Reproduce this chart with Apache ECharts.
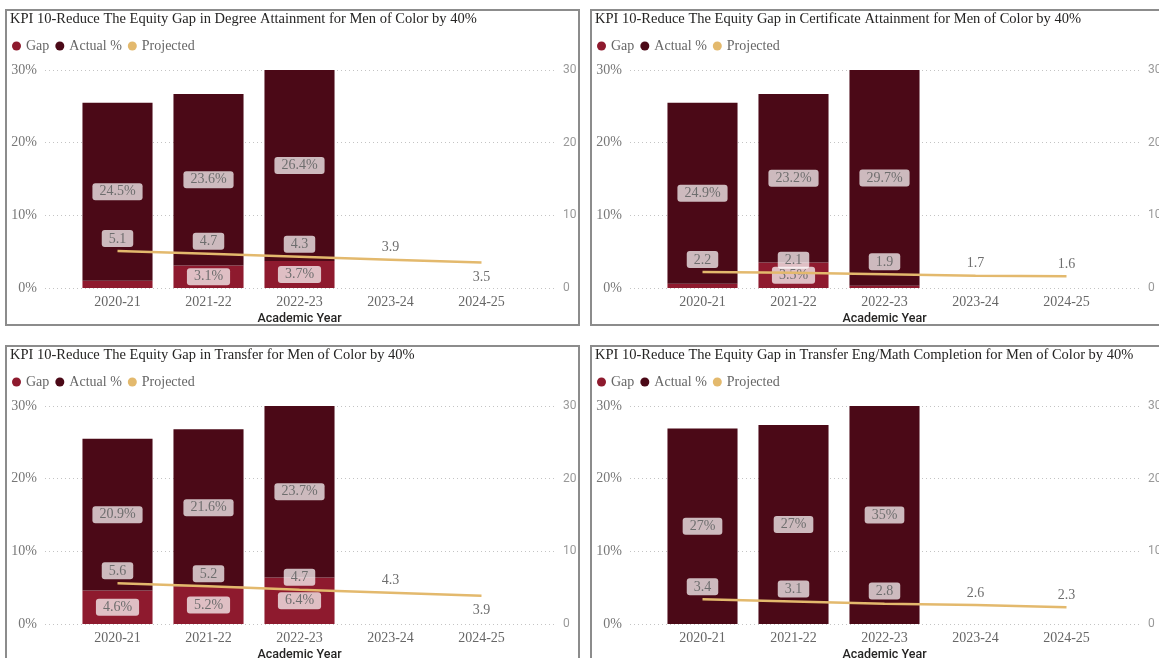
<!DOCTYPE html>
<html>
<head>
<meta charset="utf-8">
<script src="https://cdn.jsdelivr.net/npm/echarts/dist/echarts.min.js"></script>
<style>
html,body{margin:0;padding:0;background:#fff;width:1159px;height:658px;overflow:hidden;position:relative}
.chart{position:absolute;width:575px;height:317px}
.frame{position:absolute;width:575px;height:317px;box-sizing:border-box;border:2px solid #8c8c8c;pointer-events:none}
</style>
</head>
<body>
<div class="chart" id="c0" style="left:5px;top:9px"></div>
<div class="chart" id="c1" style="left:590px;top:9px"></div>
<div class="chart" id="c2" style="left:5px;top:345px"></div>
<div class="chart" id="c3" style="left:590px;top:345px"></div>
<div class="frame" style="left:5px;top:9px"></div>
<div class="frame" style="left:590px;top:9px"></div>
<div class="frame" style="left:5px;top:345px"></div>
<div class="frame" style="left:590px;top:345px"></div>
<script>
// ---- data ----
const years = ['2020-21', '2021-22', '2022-23', '2023-24', '2024-25'];
const legendNames = ['Gap', 'Actual %', 'Projected'];
const xAxisTitle = 'Academic Year';

const degreeTitle = 'KPI 10-Reduce The Equity Gap in Degree Attainment for Men of Color by 40%';
const degreeGap = [1.0, 3.1, 3.7];
const degreeActual = [24.5, 23.6, 26.4];
const degreeProjected = [5.1, 4.7, 4.3, 3.9, 3.5];

const certTitle = 'KPI 10-Reduce The Equity Gap in Certificate Attainment for Men of Color by 40%';
const certGap = [0.6, 3.5, 0.3];
const certActual = [24.9, 23.2, 29.7];
const certProjected = [2.2, 2.1, 1.9, 1.7, 1.6];

const transferTitle = 'KPI 10-Reduce The Equity Gap in Transfer for Men of Color by 40%';
const transferGap = [4.6, 5.2, 6.4];
const transferActual = [20.9, 21.6, 23.7];
const transferProjected = [5.6, 5.2, 4.7, 4.3, 3.9];

const engMathTitle = 'KPI 10-Reduce The Equity Gap in Transfer Eng/Math Completion for Men of Color by 40%';
const engMathGap = [0, 0, 0];
const engMathActual = [26.9, 27.4, 35];
const engMathProjected = [3.4, 3.1, 2.8, 2.6, 2.3];

// ---- styling / layout ----
const GAP_COLOR = '#8E1A2E';
const ACTUAL_COLOR = '#4B0917';
const LINE_COLOR = '#E3B96D';
const SERIF = '"Liberation Serif", "Times New Roman", serif';

const panels = [
  {el: 'c0', title: degreeTitle, gap: degreeGap, actual: degreeActual, projected: degreeProjected, dec: 1, below: [4]},
  {el: 'c1', title: certTitle, gap: certGap, actual: certActual, projected: certProjected, dec: 1, below: []},
  {el: 'c2', title: transferTitle, gap: transferGap, actual: transferActual, projected: transferProjected, dec: 1, below: [4]},
  {el: 'c3', title: engMathTitle, gap: engMathGap, actual: engMathActual, projected: engMathProjected, dec: 0, below: []}
];

function labelBox() {
  return {
    backgroundColor: 'rgba(255,255,255,0.72)',
    borderRadius: 3,
    padding: [2, 7, 1, 7],
    color: '#6e6e6e',
    fontFamily: SERIF,
    fontSize: 14
  };
}

function build(p) {
  const barData = arr => arr.map(v => ({value: v, label: {show: v >= 2}}));
  const pctFmt = prm => prm.value.toFixed(p.dec) + '%';
  return {
    animation: false,
    title: {
      text: p.title, left: 5, top: 3, padding: 0,
      textStyle: {fontFamily: SERIF, fontSize: 14.5, fontWeight: 'normal', color: '#252423'}
    },
    legend: {
      data: legendNames, left: 7, top: 30, padding: 0, icon: 'circle',
      itemWidth: 9, itemHeight: 9, itemGap: 6,
      textStyle: {fontFamily: SERIF, fontSize: 14, color: '#666'}
    },
    grid: [
      {left: 40, top: 61, width: 510, height: 218, containLabel: false, outerBoundsMode: 'none'},
      {left: 67, top: 61, width: 455, height: 218, containLabel: false, outerBoundsMode: 'none'}
    ],
    xAxis: [
      {gridIndex: 0, type: 'value', show: false, min: 0, max: 1},
      {
        gridIndex: 1, type: 'category', data: years,
        axisLine: {show: false}, axisTick: {show: false},
        axisLabel: {margin: 7, fontFamily: SERIF, fontSize: 14, color: '#666'},
        name: xAxisTitle, nameLocation: 'middle', nameGap: 24, nameMoveOverlap: false,
        nameTextStyle: {fontFamily: 'Roboto', fontWeight: 500, fontSize: 12.5, color: '#252423'}
      }
    ],
    yAxis: [
      {
        gridIndex: 0, type: 'value', min: 0, max: 30, interval: 10,
        axisLine: {show: false}, axisTick: {show: false},
        axisLabel: {formatter: '{value}%', margin: 8, fontFamily: SERIF, fontSize: 14, color: '#777'},
        splitLine: {lineStyle: {type: [1, 3], color: '#c4c4c4', width: 1}}
      },
      {
        gridIndex: 0, type: 'value', position: 'right', min: 0, max: 30, interval: 10,
        axisLine: {show: false}, axisTick: {show: false},
        axisLabel: {margin: 8, fontFamily: 'Roboto', fontSize: 12, color: '#999'},
        splitLine: {show: false}
      },
      {gridIndex: 1, type: 'value', min: 0, max: 30, show: false, splitLine: {show: false}},
      {gridIndex: 1, type: 'value', min: 0, max: 30, show: false, position: 'right', splitLine: {show: false}}
    ],
    series: [
      {
        name: 'Gap', type: 'bar', xAxisIndex: 1, yAxisIndex: 2, stack: 'kpi',
        barCategoryGap: '23%', data: barData(p.gap), clip: true,
        itemStyle: {color: GAP_COLOR},
        label: Object.assign({position: 'inside', formatter: pctFmt}, labelBox())
      },
      {
        name: 'Actual %', type: 'bar', xAxisIndex: 1, yAxisIndex: 2, stack: 'kpi',
        barCategoryGap: '23%', data: barData(p.actual), clip: true,
        itemStyle: {color: ACTUAL_COLOR},
        label: Object.assign({position: 'inside', formatter: pctFmt}, labelBox())
      },
      {
        name: 'Projected', type: 'line', xAxisIndex: 1, yAxisIndex: 3, z: 5,
        data: p.projected.map((v, i) => {
          const down = p.below.includes(i);
          return {value: v, label: {position: down ? 'bottom' : 'top', distance: down ? 6 : 4}};
        }),
        symbol: 'circle', symbolSize: 0.1, showSymbol: true,
        lineStyle: {color: LINE_COLOR, width: 2.5},
        itemStyle: {color: LINE_COLOR},
        label: Object.assign({show: true, formatter: prm => prm.value.toFixed(1)}, labelBox())
      }
    ]
  };
}

panels.forEach(p => {
  const chart = echarts.init(document.getElementById(p.el), null, {renderer: 'canvas'});
  chart.setOption(build(p));
});
</script>
</body>
</html>
